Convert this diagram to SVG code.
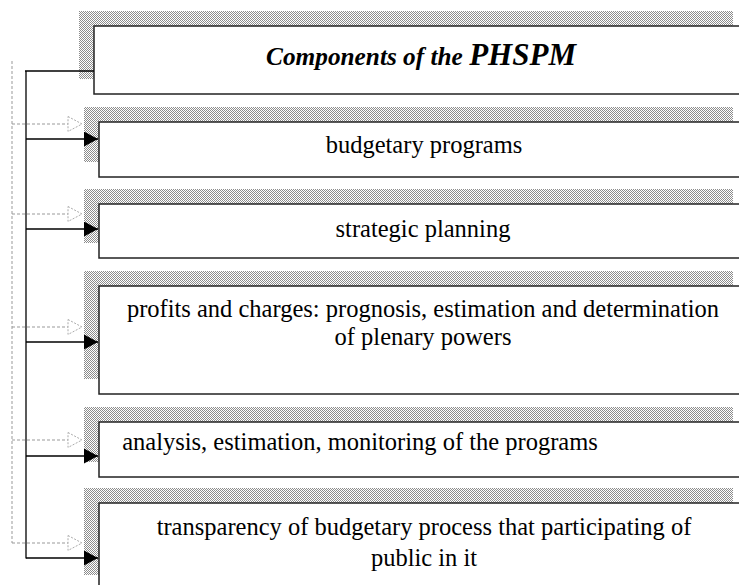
<svg xmlns="http://www.w3.org/2000/svg" width="739" height="585" viewBox="0 0 739 585">
<style>
.box{fill:#fff;stroke:#222;stroke-width:1.5}
.sh{fill:url(#chk)}
.t{font-family:"Liberation Serif","Times New Roman",serif;font-size:24.5px;fill:#000;text-anchor:middle}
.title{font-family:"Liberation Serif","Times New Roman",serif;font-weight:bold;font-style:italic;font-size:25.3px;fill:#000;text-anchor:middle}
.sol{stroke:#000;stroke-width:1.3;fill:none}
.dsh{stroke:#999;stroke-width:1;stroke-dasharray:3,2;fill:none}
</style>
<defs>
<pattern id="chk" width="2" height="2" patternUnits="userSpaceOnUse">
<rect width="2" height="2" fill="#fff"/>
<rect width="1" height="1" fill="#8c8c8c"/>
<rect x="1" y="1" width="1" height="1" fill="#8c8c8c"/>
</pattern>
<marker id="aS" markerUnits="userSpaceOnUse" markerWidth="14" markerHeight="15" refX="14" refY="7.5" orient="auto">
<path d="M0,0 L14,7.5 L0,15 Z" fill="#000"/>
</marker>
<marker id="aH" markerUnits="userSpaceOnUse" markerWidth="16" markerHeight="17" refX="15" refY="8.5" orient="auto">
<path d="M1,1 L15,8.5 L1,16 Z" fill="#fff" stroke="#aaa" stroke-width="1" stroke-dasharray="2,1.5"/>
</marker>
</defs>
<g id="n0">
<rect class="sh" x="79" y="11" width="654" height="68"/>
<rect class="box" x="94" y="26" width="654" height="68"/>
<text class="title" x="421" y="65">Components of the <tspan font-size="31px">PHSPM</tspan></text>
</g>
<g id="n1">
<rect class="sh" x="84" y="107" width="649" height="55"/>
<rect class="box" x="99" y="122" width="649" height="55"/>
<text class="t" x="424" y="153">budgetary programs</text>
</g>
<g id="n2">
<rect class="sh" x="84" y="189" width="649" height="54"/>
<rect class="box" x="99" y="204" width="649" height="54"/>
<text class="t" x="423" y="237">strategic planning</text>
</g>
<g id="n3">
<rect class="sh" x="84" y="271" width="649" height="108"/>
<rect class="box" x="99" y="286" width="649" height="108"/>
<text class="t" x="423" y="317">profits and charges: prognosis, estimation and determination</text>
<text class="t" x="423" y="345">of plenary powers</text>
</g>
<g id="n4">
<rect class="sh" x="84" y="407" width="649" height="55"/>
<rect class="box" x="99" y="422" width="649" height="55"/>
<text class="t" x="360" y="450">analysis, estimation, monitoring of the programs</text>
</g>
<g id="n5">
<rect class="sh" x="84" y="488" width="649" height="87"/>
<rect class="box" x="99" y="503" width="649" height="87"/>
<text class="t" x="424" y="535">transparency of budgetary process that participating of</text>
<text class="t" x="424" y="566">public in it</text>
</g>
<g id="connectors">
<line class="dsh" x1="12" y1="61" x2="12" y2="543"/>
<line class="dsh" x1="12" y1="124" x2="82" y2="124" marker-end="url(#aH)"/>
<line class="dsh" x1="12" y1="214" x2="82" y2="214" marker-end="url(#aH)"/>
<line class="dsh" x1="12" y1="327" x2="82" y2="327" marker-end="url(#aH)"/>
<line class="dsh" x1="12" y1="440" x2="82" y2="440" marker-end="url(#aH)"/>
<line class="dsh" x1="12" y1="543" x2="82" y2="543" marker-end="url(#aH)"/>
<line class="sol" x1="26" y1="71" x2="26" y2="558.5"/>
<line class="sol" x1="25" y1="71" x2="94" y2="71" stroke-width="2"/>
<line class="sol" x1="26" y1="139" x2="98" y2="139" marker-end="url(#aS)"/>
<line class="sol" x1="26" y1="229" x2="98" y2="229" marker-end="url(#aS)"/>
<line class="sol" x1="26" y1="342" x2="98" y2="342" marker-end="url(#aS)"/>
<line class="sol" x1="26" y1="456" x2="98" y2="456" marker-end="url(#aS)"/>
<line class="sol" x1="26" y1="558" x2="98" y2="558" marker-end="url(#aS)"/>
</g>
</svg>
